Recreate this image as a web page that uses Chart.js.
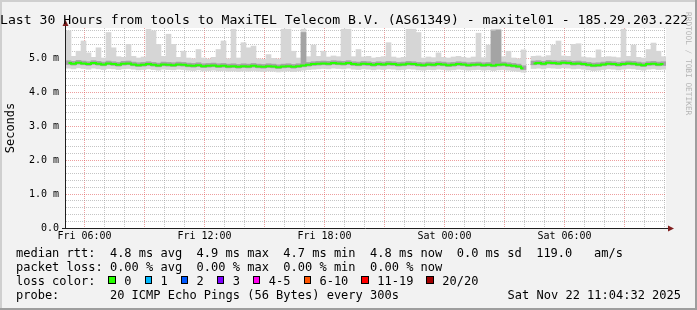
<!DOCTYPE html>
<html>
<head>
<meta charset="utf-8">
<script src="https://cdn.jsdelivr.net/npm/chart.js@4.4.1/dist/chart.umd.min.js"></script>
<style>
  html, body { margin: 0; padding: 0; background: #f2f2f2; }
  #wrap { position: relative; width: 697px; height: 310px; overflow: hidden; background: #f2f2f2;
          font-family: "DejaVu Sans Mono", monospace; color: #000; }
  #chart { position: absolute; left: 0; top: 0; }
  .edge { position: absolute; }
  #title { position: absolute; left: 0; top: 11.5px; font-size: 13.15px; line-height: 16px; white-space: pre; }
  #legend { position: absolute; left: 16px; top: 246.3px; font-size: 12px; line-height: 14px; white-space: pre; }
  #stamp { position: absolute; right: 16px; top: 288.3px; font-size: 12px; line-height: 14px; white-space: pre; }
  #rrd { position: absolute; left: 684px; top: 12px; font-size: 7.8px; line-height: 9px; color: #b4b4b4;
         writing-mode: vertical-rl; white-space: pre; }
  .sw { display: inline-block; box-sizing: border-box; width: 1ch; height: 8px; border: 1px solid #000;
        vertical-align: 1.5px; position: relative; left: -1.5px; }
</style>
</head>
<body>
<div id="wrap">
  <canvas id="chart" width="697" height="310"></canvas>
  <div class="edge" style="left:0;top:0;width:697px;height:2px;background:#cfcfcf"></div>
  <div class="edge" style="left:0;top:0;width:2px;height:310px;background:#cfcfcf"></div>
  <div class="edge" style="left:695px;top:0;width:2px;height:310px;background:#9e9e9e"></div>
  <div class="edge" style="left:0;top:308px;width:697px;height:2px;background:#9e9e9e"></div>
  <div id="title">Last 30 Hours from tools to MaxiTEL Telecom B.V. (AS61349) - maxitel01 - 185.29.203.222</div>
  <div id="rrd">RRDTOOL / TOBI OETIKER</div>
  <div id="legend"></div>
  <div id="stamp">Sat Nov 22 11:04:32 2025</div>
</div>
<script>
// graph window: Fri 05:04:32 .. Sat 11:04:32, in hours since Fri 00:00
var startHour = 5.0756;
var endHour = 35.0756;
var sampleStep = 0.25;

// smoke / median, ms (one column per 15 min)
var rttMedian = [
  4.85,4.83,4.86,4.84,4.82,4.85,4.83,4.81,4.84,4.82,
  4.80,4.83,4.84,4.81,4.79,4.80,4.82,4.80,4.78,4.81,
  4.80,4.79,4.81,4.80,4.78,4.77,4.79,4.76,4.77,4.78,
  4.76,4.77,4.75,4.76,4.74,4.76,4.75,4.77,4.75,4.74,
  4.76,4.75,4.73,4.75,4.76,4.74,4.76,4.78,4.80,4.82,
  4.83,4.84,4.83,4.85,4.84,4.83,4.85,4.82,4.81,4.83,
  4.82,4.80,4.82,4.81,4.83,4.82,4.80,4.81,4.83,4.82,
  4.80,4.79,4.81,4.80,4.82,4.81,4.79,4.80,4.82,4.81,
  4.79,4.80,4.81,4.79,4.80,4.78,4.80,4.81,4.79,4.77,
  4.75,4.70,null,4.84,4.85,4.83,4.86,4.85,4.84,4.86,
  4.85,4.83,4.84,4.82,4.80,4.78,4.79,4.81,4.83,4.82,
  4.80,4.82,4.84,4.83,4.81,4.79,4.82,4.83,4.81,4.82
];
var rttMin = [
  4.70,4.68,4.71,4.69,4.67,4.70,4.68,4.66,4.69,4.68,
  4.66,4.68,4.69,4.67,4.65,4.66,4.68,4.66,4.64,4.67,
  4.66,4.65,4.67,4.66,4.64,4.63,4.65,4.62,4.63,4.64,
  4.62,4.63,4.61,4.62,4.60,4.62,4.61,4.63,4.61,4.60,
  4.62,4.61,4.59,4.61,4.62,4.60,4.62,4.64,4.66,4.67,
  4.68,4.69,4.68,4.70,4.69,4.68,4.70,4.67,4.66,4.68,
  4.67,4.65,4.67,4.66,4.68,4.67,4.65,4.66,4.68,4.67,
  4.65,4.64,4.66,4.65,4.67,4.66,4.64,4.65,4.67,4.66,
  4.64,4.65,4.66,4.64,4.65,4.63,4.65,4.66,4.64,4.62,
  4.60,4.58,null,4.69,4.70,4.68,4.71,4.70,4.69,4.71,
  4.70,4.68,4.69,4.67,4.65,4.63,4.64,4.66,4.68,4.67,
  4.65,4.67,4.69,4.68,4.66,4.64,4.67,4.68,4.66,4.67
];
var rttLow = [
  4.81,4.79,4.82,4.80,4.78,4.81,4.79,4.77,4.80,4.78,
  4.76,4.79,4.80,4.77,4.75,4.76,4.78,4.76,4.74,4.77,
  4.76,4.75,4.77,4.76,4.74,4.73,4.75,4.72,4.73,4.74,
  4.72,4.73,4.71,4.72,4.70,4.72,4.71,4.73,4.71,4.70,
  4.72,4.71,4.69,4.71,4.72,4.70,4.72,4.74,4.76,4.78,
  4.79,4.80,4.79,4.81,4.80,4.79,4.81,4.78,4.77,4.79,
  4.78,4.76,4.78,4.77,4.79,4.78,4.76,4.77,4.79,4.78,
  4.76,4.75,4.77,4.76,4.78,4.77,4.75,4.76,4.78,4.77,
  4.75,4.76,4.77,4.75,4.76,4.74,4.76,4.77,4.75,4.73,
  4.71,4.66,null,4.80,4.81,4.79,4.82,4.81,4.80,4.82,
  4.81,4.79,4.80,4.78,4.76,4.74,4.75,4.77,4.79,4.78,
  4.76,4.78,4.80,4.79,4.77,4.75,4.78,4.79,4.77,4.78
];
var rttHigh = [
  4.92,4.90,4.93,4.91,4.89,4.92,4.90,4.88,4.91,4.89,
  4.87,4.90,4.91,4.88,4.86,4.87,4.89,4.87,4.85,4.88,
  4.87,4.86,4.88,4.87,4.85,4.84,4.86,4.83,4.84,4.85,
  4.83,4.84,4.82,4.83,4.81,4.83,4.82,4.84,4.82,4.81,
  4.83,4.82,4.80,4.82,4.83,4.81,4.83,5.75,4.87,4.89,
  4.90,4.91,4.90,4.92,4.91,4.90,4.92,4.89,4.88,4.90,
  4.89,4.87,4.89,4.88,4.90,4.89,4.87,4.88,4.90,4.89,
  4.87,4.86,4.88,4.87,4.89,4.88,4.86,4.87,4.89,4.88,
  4.86,4.87,4.88,4.86,4.87,5.80,5.82,4.88,4.86,4.84,
  4.82,4.77,null,4.91,4.92,4.90,4.93,4.92,4.91,4.93,
  4.92,4.90,4.91,4.89,4.87,4.85,4.86,4.88,4.90,4.89,
  4.87,4.89,4.91,4.90,4.88,4.86,4.89,4.90,4.88,4.89
];
var rttMax = [
  5.80,5.05,5.20,5.50,5.15,5.02,5.30,5.00,5.75,5.30,
  5.04,5.02,5.40,5.05,5.00,5.03,5.85,5.80,5.40,5.05,
  5.70,5.40,5.02,5.20,5.00,4.98,5.25,5.00,4.97,5.02,
  5.25,5.50,4.98,5.85,5.00,5.45,5.30,5.35,4.98,4.96,
  5.10,4.99,4.97,5.85,5.85,5.20,5.00,5.85,5.04,5.38,
  5.05,5.20,5.03,5.06,5.04,5.85,5.85,5.04,5.25,5.03,
  5.05,5.00,5.02,5.04,5.45,5.03,5.00,5.02,5.85,5.85,
  5.75,5.00,5.03,5.01,5.15,5.02,5.00,5.03,5.05,5.02,
  5.00,5.03,5.73,5.01,5.38,5.85,5.85,5.04,5.20,5.00,
  4.98,5.24,null,5.05,5.06,5.03,5.07,5.38,5.50,5.06,
  5.05,5.40,5.42,5.03,5.01,5.00,5.24,5.02,5.04,5.03,
  5.01,5.85,5.05,5.38,5.02,5.00,5.25,5.44,5.20,5.04
];

// axis labels
var xTickHours = [6, 12, 18, 24, 30];
var xTickLabels = ['Fri 06:00', 'Fri 12:00', 'Fri 18:00', 'Sat 00:00', 'Sat 06:00'];
var yTickValues = [0, 1, 2, 3, 4, 5];
var yTickLabels = ['0.0', '1.0 m', '2.0 m', '3.0 m', '4.0 m', '5.0 m'];

// legend
var lossLabels = ['0', '1', '2', '3', '4-5', '6-10', '11-19', '20/20'];
var lossColors = ['#26ff00', '#00b8ff', '#0059ff', '#7e00ff', '#ff00ee', '#ff5500', '#ff0000', '#a10000'];

var monoFont = '"DejaVu Sans Mono", monospace';
var majorGrid = 'rgba(222,79,79,0.55)';
var minorGrid = 'rgba(150,150,150,0.55)';

var sampleHours = rttMedian.map(function (v, i) { return startHour + sampleStep / 2 + i * sampleStep; });

function band(lo, hi) {
	return sampleHours.map(function (t, i) {
		return { x: t, y: (lo[i] == null || hi[i] == null) ? null : [lo[i], hi[i]] };
	});
}

// legend text
var lossLine = 'loss color:  ';
for (var i = 0; i < lossLabels.length; i++) {
	lossLine += '<span class="sw" style="background:' + lossColors[i] + '"></span> ' + lossLabels[i] + '  ';
}
document.getElementById('legend').innerHTML =
	'median rtt:  4.8 ms avg  4.9 ms max  4.7 ms min  4.8 ms now  0.0 ms sd  119.0   am/s\n' +
	'packet loss: 0.00 % avg  0.00 % max  0.00 % min  0.00 % now\n' +
	lossLine + '\n' +
	'probe:       20 ICMP Echo Pings (56 Bytes) every 300s';

var rrdFrame = {
	id: 'rrdFrame',
	beforeDraw: function (chart) {
		var a = chart.chartArea, ctx = chart.ctx;
		ctx.save();
		ctx.fillStyle = '#ffffff';
		ctx.fillRect(a.left, a.top, a.right - a.left, a.bottom - a.top);
		ctx.restore();
	},
	afterDraw: function (chart) {
		var a = chart.chartArea, ctx = chart.ctx;
		var ax = a.left - 0.5, ay = a.bottom + 0.5;
		ctx.save();
		ctx.strokeStyle = '#1f1f1f';
		ctx.lineWidth = 1;
		ctx.beginPath();
		ctx.moveTo(a.left - 4, ay); ctx.lineTo(a.right + 3, ay);
		ctx.moveTo(ax, ay); ctx.lineTo(ax, a.top - 3);
		ctx.stroke();
		ctx.fillStyle = '#801f1f';
		ctx.beginPath();
		ctx.moveTo(ax - 3, a.top - 2); ctx.lineTo(ax + 3, a.top - 2); ctx.lineTo(ax, a.top - 8);
		ctx.closePath(); ctx.fill();
		ctx.beginPath();
		ctx.moveTo(a.right + 2, ay - 3); ctx.lineTo(a.right + 2, ay + 3); ctx.lineTo(a.right + 8, ay);
		ctx.closePath(); ctx.fill();
		ctx.restore();
	}
};

new Chart(document.getElementById('chart'), {
	type: 'bar',
	data: {
		datasets: [
			{
				type: 'line',
				data: sampleHours.map(function (t, i) { return { x: t, y: rttMedian[i] }; }),
				borderColor: '#26ff00',
				borderWidth: 2,
				pointRadius: 0,
				stepped: 'middle',
				spanGaps: false,
				order: 0
			},
			{
				data: band(rttLow, rttHigh),
				backgroundColor: '#a4a4a4',
				grouped: false,
				barPercentage: 1,
				categoryPercentage: 1,
				order: 1
			},
			{
				data: band(rttMin, rttMax),
				backgroundColor: '#d6d6d6',
				grouped: false,
				barPercentage: 1,
				categoryPercentage: 1,
				order: 2
			}
		]
	},
	plugins: [rrdFrame],
	options: {
		responsive: false,
		animation: false,
		events: [],
		layout: { padding: { left: 0, top: 28, right: 31, bottom: 62 } },
		plugins: { legend: { display: false }, tooltip: { enabled: false } },
		scales: {
			x: {
				type: 'linear',
				min: startHour,
				max: endHour,
				offset: false,
				z: 1,
				afterBuildTicks: function (s) {
					var t = [];
					for (var h = 6; h <= 35; h++) t.push({ value: h });
					s.ticks = t;
				},
				afterFit: function (s) { s.height = 20; },
				grid: {
					offset: false,
					drawTicks: false,
					lineWidth: 1,
					color: function (c) { return (c.tick && c.tick.value % 3 === 0) ? majorGrid : minorGrid; }
				},
				border: { display: false, dash: [1, 1] },
				ticks: {
					autoSkip: false,
					maxRotation: 0,
					padding: 2,
					color: '#000',
					font: { family: monoFont, size: 10 },
					callback: function (v) {
						var k = xTickHours.indexOf(v);
						return k < 0 ? '' : xTickLabels[k];
					}
				}
			},
			y: {
				min: 0,
				max: 200 / 34,
				z: 1,
				afterBuildTicks: function (s) {
					var t = [];
					for (var k = 0; k <= 29; k++) t.push({ value: k / 5 });
					s.ticks = t;
				},
				afterFit: function (s) { s.width = 66; },
				grid: {
					drawTicks: false,
					lineWidth: 1,
					color: function (c) {
						if (!c.tick) return minorGrid;
						return Math.abs(c.tick.value - Math.round(c.tick.value)) < 1e-6 ? majorGrid : minorGrid;
					}
				},
				border: { display: false, dash: [1, 1] },
				title: {
					display: true,
					text: 'Seconds',
					color: '#000',
					font: { family: monoFont, size: 12 },
					padding: { top: 4, bottom: 0 }
				},
				ticks: {
					autoSkip: false,
					padding: 7,
					color: '#000',
					font: { family: monoFont, size: 10 },
					callback: function (v) {
						for (var k = 0; k < yTickValues.length; k++) {
							if (Math.abs(yTickValues[k] - v) < 1e-6) return yTickLabels[k];
						}
						return '';
					}
				}
			}
		}
	}
});
</script>
</body>
</html>
